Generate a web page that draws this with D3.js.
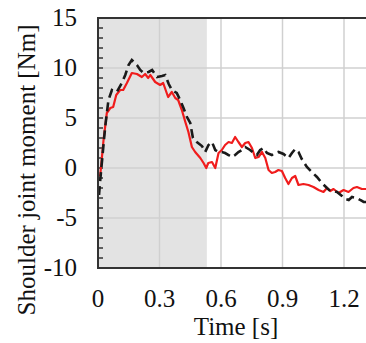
<!DOCTYPE html>
<html><head><meta charset="utf-8">
<script src="https://cdn.jsdelivr.net/npm/d3@7"></script>
<style>html,body{margin:0;padding:0;background:#fff;overflow:hidden}</style>
</head><body><svg id="c" width="366" height="343"></svg>
<script>
const redT = [0.005,0.011,0.027,0.043,0.060,0.074,0.089,0.108,0.123,0.141,0.165,0.190,0.214,0.230,0.245,0.255,0.279,0.303,0.318,0.342,0.360,0.377,0.391,0.409,0.426,0.441,0.458,0.474,0.499,0.515,0.528,0.538,0.556,0.572,0.588,0.604,0.620,0.637,0.653,0.669,0.685,0.702,0.718,0.734,0.751,0.767,0.783,0.800,0.816,0.832,0.848,0.864,0.880,0.897,0.913,0.929,0.946,0.962,0.978,1.002,1.027,1.051,1.076,1.100,1.117,1.133,1.149,1.173,1.198,1.222,1.246,1.263,1.287,1.308];
const redV = [-0.8,-0.7,2.8,5.5,6.0,6.1,7.3,7.8,7.8,8.5,9.5,9.4,9.1,9.4,9.0,9.3,8.6,8.3,8.5,7.1,7.6,7.0,6.8,5.8,4.6,3.6,2.1,1.6,1.0,0.5,0.0,0.5,0.6,0.0,1.5,1.8,2.3,2.6,2.5,3.1,2.6,2.1,2.5,2.6,2.0,1.0,1.1,1.6,1.0,-0.2,-0.5,-0.4,-0.2,-0.3,-1.0,-1.6,-1.0,-0.8,-1.7,-1.6,-1.7,-1.9,-2.2,-2.4,-2.0,-2.3,-2.1,-2.5,-2.2,-2.4,-2.0,-1.9,-2.1,-2.1];
const blackT = [0.005,0.011,0.035,0.051,0.068,0.092,0.116,0.133,0.149,0.165,0.190,0.206,0.223,0.247,0.264,0.288,0.312,0.328,0.345,0.360,0.384,0.401,0.417,0.434,0.450,0.463,0.482,0.507,0.523,0.539,0.556,0.572,0.588,0.604,0.620,0.637,0.653,0.669,0.685,0.702,0.718,0.742,0.759,0.775,0.791,0.808,0.824,0.848,0.864,0.880,0.905,0.929,0.946,0.962,0.978,0.994,1.019,1.043,1.068,1.092,1.117,1.133,1.149,1.166,1.190,1.206,1.223,1.239,1.263,1.279,1.296,1.308];
const blackV = [-2.7,-1.2,4.1,6.8,7.8,7.6,8.5,9.3,10.3,10.8,10.3,9.8,9.5,9.6,9.8,9.1,9.2,9.3,8.4,7.8,7.5,6.8,6.0,5.1,4.5,3.0,2.6,2.2,1.6,2.3,2.6,1.8,1.6,1.6,1.5,1.3,1.1,1.3,1.6,1.8,2.1,1.8,1.5,1.3,1.8,2.0,1.5,1.3,1.5,1.6,1.4,1.0,1.5,1.9,1.6,0.9,0.1,-0.4,-0.9,-1.5,-2.0,-2.3,-2.3,-2.4,-2.8,-3.1,-3.2,-2.9,-3.0,-3.2,-3.4,-3.4];
const xTicks = [0, 0.3, 0.6, 0.9, 1.2];
const xTickLabels = ["0", "0.3", "0.6", "0.9", "1.2"];
const yTicks = [-10, -5, 0, 5, 10, 15];
const yTickLabels = ["-10", "-5", "0", "5", "10", "15"];
const shadeEnd = 0.531;
const xLabel = "Time [s]";
const yLabel = "Shoulder joint moment [Nm]";

const svg = d3.select("#c");
const m = {l: 98, t: 18, r: 0, b: 75};
const W = 366 - m.l - m.r, H = 343 - m.t - m.b;
const x = d3.scaleLinear().domain([0, W/205]).range([m.l, m.l + W]);
const y = d3.scaleLinear().domain([-10, 15]).range([m.t + H, m.t]);
const font = "'Liberation Serif', 'Times New Roman', serif";

svg.append("rect").attr("x", x(0)).attr("y", y(15)).attr("width", x(shadeEnd) - x(0)).attr("height", y(-10) - y(15)).attr("fill", "#e3e3e3");

// grid
svg.append("g").selectAll("line").data(yTicks.filter(d => d > -10 && d < 15)).join("line")
  .attr("x1", x(0)).attr("x2", m.l + W).attr("y1", d => y(d)).attr("y2", d => y(d))
  .attr("stroke", "#d0d0d0").attr("stroke-width", 1.5);
svg.append("g").selectAll("line").data(xTicks.filter(d => d > 0)).join("line")
  .attr("x1", d => x(d)).attr("x2", d => x(d)).attr("y1", y(15)).attr("y2", y(-10))
  .attr("stroke", "#d0d0d0").attr("stroke-width", 1.5);

// minor ticks on y axis (inside)
const minor = d3.range(-9, 15, 1);
svg.append("g").selectAll("line").data(minor).join("line")
  .attr("x1", x(0)).attr("x2", x(0) + 5).attr("y1", d => y(d)).attr("y2", d => y(d))
  .attr("stroke", "#333").attr("stroke-width", 1.5);

const line = d3.line().x(d => x(d[0])).y(d => y(d[1]));
svg.append("clipPath").attr("id", "pc").append("rect").attr("x", m.l).attr("y", m.t - 5).attr("width", W).attr("height", H + 10);
svg.append("path").datum(redT.map((t, i) => [t, redV[i]])).attr("d", line)
  .attr("fill", "none").attr("stroke", "#f01c1c").attr("stroke-width", 2.2).attr("stroke-linejoin", "round").attr("clip-path", "url(#pc)");
svg.append("path").datum(blackT.map((t, i) => [t, blackV[i]])).attr("d", line)
  .attr("fill", "none").attr("stroke", "#1a1a1a").attr("stroke-width", 2.6).attr("stroke-dasharray", "9,5").attr("clip-path", "url(#pc)");

// axis lines
svg.append("line").attr("x1", x(0)).attr("x2", x(0)).attr("y1", y(15) - 1).attr("y2", y(-10) + 1).attr("stroke", "#333").attr("stroke-width", 2);
svg.append("line").attr("x1", x(0) - 1).attr("x2", m.l + W).attr("y1", y(-10)).attr("y2", y(-10)).attr("stroke", "#333").attr("stroke-width", 2);
svg.append("line").attr("x1", x(0) - 1).attr("x2", m.l + W).attr("y1", y(15)).attr("y2", y(15)).attr("stroke", "#333").attr("stroke-width", 2);

// tick labels
svg.append("g").selectAll("text").data(yTicks).join("text")
  .attr("x", 77).attr("y", d => y(d)).attr("dy", "0.33em").attr("text-anchor", "end")
  .attr("font-family", font).attr("font-size", 25).attr("fill", "#111")
  .text((d, i) => yTickLabels[i]);
svg.append("g").selectAll("text").data(xTicks).join("text")
  .attr("x", d => x(d)).attr("y", 307).attr("text-anchor", "middle")
  .attr("font-family", font).attr("font-size", 25).attr("fill", "#111")
  .text((d, i) => xTickLabels[i]);
svg.append("text").attr("x", 236).attr("y", 335).attr("text-anchor", "middle")
  .attr("font-family", font).attr("font-size", 25).attr("fill", "#111").text(xLabel);
svg.append("text").attr("transform", "translate(35,170) rotate(-90)").attr("text-anchor", "middle")
  .attr("font-family", font).attr("font-size", 25).attr("fill", "#111").text(yLabel);
</script></body></html>
